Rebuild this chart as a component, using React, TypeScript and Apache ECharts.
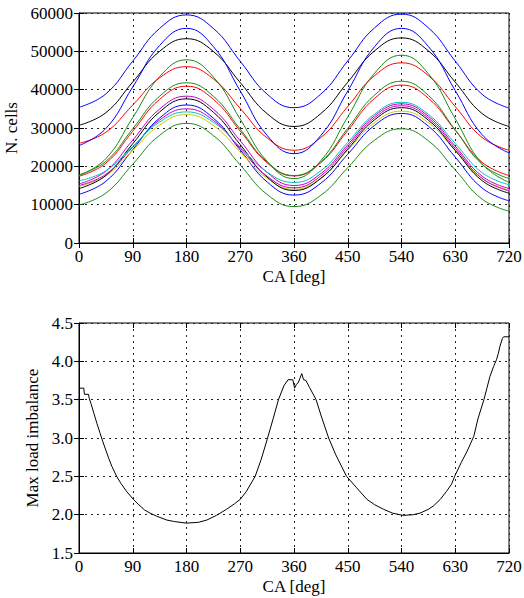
import React, { useEffect, useRef } from "react";
import * as echarts from "echarts";

// ---- Top panel: number of cells per processor vs crank angle ----
const caTop = [0, 45, 90, 135, 180, 225, 270, 315, 360, 405, 450, 495, 540, 585, 630, 675, 720];

const blueA = [35400, 38900, 47450, 55980, 59500, 55970, 47400, 38830, 35300, 38860, 47500, 56140, 59700, 56120, 47450, 38780, 35200];
const blueC = [25400, 29870, 40700, 51530, 56000, 51230, 39650, 28070, 23300, 28070, 39650, 51230, 56000, 51260, 39750, 28250, 23500];
const blackB = [30700, 34000, 42000, 50000, 53300, 49960, 41850, 33740, 30400, 33770, 41950, 50130, 53500, 50130, 41950, 33770, 30400];
const redD = [26000, 28900, 36000, 43100, 46000, 42800, 35100, 27400, 24200, 27530, 35600, 43670, 47000, 43670, 35600, 27530, 24200];
const greenE = [17600, 22000, 32700, 43400, 47800, 43300, 32300, 21300, 16800, 21500, 32900, 44300, 49000, 44150, 32400, 20650, 15800];
const greenF = [17800, 21300, 29800, 38300, 41800, 38270, 29700, 21130, 17600, 21200, 29900, 38600, 42200, 38500, 29500, 20500, 16800];
const redG = [17400, 20830, 29150, 37470, 40900, 37480, 29200, 20920, 17500, 20960, 29350, 37740, 41200, 37750, 29400, 21050, 17600];
const cyanH = [16200, 18830, 25200, 31570, 34200, 31510, 25000, 18490, 15800, 18850, 26250, 33650, 36700, 33560, 25950, 18340, 15200];
const magentaI = [15400, 18740, 26850, 34960, 38300, 34900, 26650, 18400, 15000, 18110, 25650, 33190, 36300, 33070, 25250, 17430, 14200];
const magentaJ = [15000, 17920, 25000, 32080, 35000, 31990, 24700, 17410, 14400, 17520, 25100, 32680, 35800, 32560, 24700, 16840, 13600];
const yellowK = [14800, 17530, 24150, 30770, 33500, 30650, 23750, 16850, 14000, 16980, 24200, 31420, 34400, 31390, 24100, 16810, 13800];
const blackL = [14200, 17620, 25900, 34180, 37600, 34110, 25650, 17190, 13700, 16850, 24500, 32150, 35300, 32040, 24150, 16260, 13000];
const blueM = [12700, 16100, 24350, 32600, 36000, 32570, 24250, 15930, 12500, 15610, 23150, 30690, 33800, 30470, 22400, 14330, 11000];
const greenO = [9900, 13010, 20550, 28090, 31200, 28030, 20350, 12670, 9500, 12460, 19650, 26840, 29800, 26660, 19050, 11440, 8300];

// ---- Bottom panel: max load imbalance vs crank angle ----
const caBottom = [
  0, 8, 9, 16, 17, 20, 25, 30, 35, 40, 45, 50, 55, 63, 70, 80, 91, 100, 110, 119, 130, 147, 160, 180,
  200, 214, 230, 247, 260, 270, 280, 295, 305, 315, 325, 334, 343, 350, 358, 361, 364, 367, 370, 373,
  376, 380, 386, 397, 405, 418, 430, 448, 465, 482, 495, 510, 525, 543, 560, 571, 585, 593, 605, 615,
  624, 629, 640, 650, 661, 668, 678, 683, 688, 694, 699, 702, 705, 709, 711, 720,
];
const imbalance = [
  3.65, 3.65, 3.57, 3.57, 3.52, 3.45, 3.32, 3.19, 3.07, 2.95, 2.84, 2.73, 2.63, 2.5, 2.41, 2.3, 2.2, 2.13, 2.06, 2.02, 1.98, 1.93, 1.91, 1.89,
  1.9, 1.93, 1.99, 2.07, 2.14, 2.2, 2.3, 2.5, 2.72, 2.98, 3.25, 3.5, 3.68, 3.76, 3.76, 3.65, 3.7, 3.72, 3.78, 3.84,
  3.76, 3.75, 3.66, 3.5, 3.3, 3.0, 2.78, 2.5, 2.35, 2.2, 2.13, 2.07, 2.02, 1.99, 2.0, 2.02, 2.07, 2.11, 2.2, 2.3,
  2.4, 2.5, 2.68, 2.83, 3.02, 3.25, 3.5, 3.65, 3.8, 3.93, 4.02, 4.1, 4.2, 4.3, 4.32, 4.32,
];

const topTicks = [0, 10000, 20000, 30000, 40000, 50000, 60000];
const bottomTicks = [1.5, 2.0, 2.5, 3.0, 3.5, 4.0, 4.5];

const topSeries: { values: number[]; color: string }[] = [
  { values: greenO, color: "#1a8a1a" },
  { values: blueM, color: "#0000ff" },
  { values: yellowK, color: "#c8c800" },
  { values: blackL, color: "#000000" },
  { values: magentaJ, color: "#c000c0" },
  { values: magentaI, color: "#c000c0" },
  { values: cyanH, color: "#00c0c0" },
  { values: redG, color: "#ff0000" },
  { values: greenF, color: "#1a8a1a" },
  { values: greenE, color: "#1a8a1a" },
  { values: redD, color: "#ff0000" },
  { values: blackB, color: "#000000" },
  { values: blueC, color: "#0000ff" },
  { values: blueA, color: "#0000ff" },
];

const FONT = "'Liberation Serif', 'DejaVu Serif', serif";

export default function App() {
  const ref = useRef<HTMLDivElement>(null);

  useEffect(() => {
    if (!ref.current) return;
    const chart = echarts.init(ref.current, undefined, { renderer: "svg" });

    const splitLine = { show: true, lineStyle: { color: "#222", type: [2, 4] as any, width: 1 } };
    const labelStyle = { color: "#000", fontFamily: FONT, fontSize: 17 };
    const nameStyle = { color: "#000", fontFamily: FONT, fontSize: 17 };
    const tick = { show: true, inside: true, length: 5, lineStyle: { color: "#000" } };

    const xBase = (gridIndex: number) => ({
      type: "value" as const,
      gridIndex,
      min: 0,
      max: 720,
      interval: 90,
    });

    const option: any = {
      animation: false,
      backgroundColor: "#fff",
      textStyle: { fontFamily: FONT },
      grid: [
        { left: 79, top: 13, width: 430, height: 230, show: true, borderColor: "#000", borderWidth: 1, containLabel: false, outerBoundsMode: "none" },
        { left: 79, top: 323, width: 430, height: 230, show: true, borderColor: "#000", borderWidth: 1, containLabel: false, outerBoundsMode: "none" },
      ],
      xAxis: [
        {
          ...xBase(0),
          position: "bottom",
          name: "CA [deg]",
          nameLocation: "middle",
          nameGap: 25,
          nameTextStyle: nameStyle,
          axisLine: { show: true, lineStyle: { color: "#000" } },
          axisTick: tick,
          axisLabel: { ...labelStyle, margin: 5, formatter: (v: number) => String(v) },
          splitLine,
        },
        {
          ...xBase(0),
          position: "top",
          axisLine: { show: false },
          axisTick: tick,
          axisLabel: { show: false },
          splitLine: { show: false },
        },
        {
          ...xBase(1),
          position: "bottom",
          name: "CA [deg]",
          nameLocation: "middle",
          nameGap: 25,
          nameTextStyle: nameStyle,
          axisLine: { show: true, lineStyle: { color: "#000" } },
          axisTick: tick,
          axisLabel: { ...labelStyle, margin: 5, formatter: (v: number) => String(v) },
          splitLine,
        },
        {
          ...xBase(1),
          position: "top",
          axisLine: { show: false },
          axisTick: tick,
          axisLabel: { show: false },
          splitLine: { show: false },
        },
      ],
      yAxis: [
        {
          type: "value",
          gridIndex: 0,
          min: topTicks[0],
          max: topTicks[topTicks.length - 1],
          interval: 10000,
          position: "left",
          name: "N. cells",
          nameLocation: "middle",
          nameGap: 55,
          nameTextStyle: nameStyle,
          axisLine: { show: true, lineStyle: { color: "#000" } },
          axisTick: tick,
          axisLabel: { ...labelStyle, margin: 6, formatter: (v: number) => String(v) },
          splitLine,
        },
        {
          type: "value",
          gridIndex: 0,
          min: topTicks[0],
          max: topTicks[topTicks.length - 1],
          interval: 10000,
          position: "right",
          axisLine: { show: false },
          axisTick: tick,
          axisLabel: { show: false },
          splitLine: { show: false },
        },
        {
          type: "value",
          gridIndex: 1,
          min: bottomTicks[0],
          max: bottomTicks[bottomTicks.length - 1],
          interval: 0.5,
          position: "left",
          name: "Max load imbalance",
          nameLocation: "middle",
          nameGap: 33,
          nameTextStyle: nameStyle,
          axisLine: { show: true, lineStyle: { color: "#000" } },
          axisTick: tick,
          axisLabel: { ...labelStyle, margin: 6, formatter: (v: number) => v.toFixed(1) },
          splitLine,
        },
        {
          type: "value",
          gridIndex: 1,
          min: bottomTicks[0],
          max: bottomTicks[bottomTicks.length - 1],
          interval: 0.5,
          position: "right",
          axisLine: { show: false },
          axisTick: tick,
          axisLabel: { show: false },
          splitLine: { show: false },
        },
      ],
      series: [
        ...topSeries.map((s) => ({
          type: "line",
          xAxisIndex: 0,
          yAxisIndex: 0,
          data: caTop.map((x, i) => [x, s.values[i]]),
          smooth: 0.45,
          showSymbol: false,
          lineStyle: { color: s.color, width: 1 },
          itemStyle: { color: s.color },
        })),
        {
          type: "line",
          xAxisIndex: 2,
          yAxisIndex: 2,
          data: caBottom.map((x, i) => [x, imbalance[i]]),
          smooth: false,
          showSymbol: false,
          lineStyle: { color: "#000", width: 1 },
          itemStyle: { color: "#000" },
        },
      ],
    };

    chart.setOption(option);
    return () => chart.dispose();
  }, []);

  return (
    <div
      ref={ref}
      style={{ position: "fixed", left: 0, top: 0, width: 524, height: 598, background: "#fff" }}
    />
  );
}
